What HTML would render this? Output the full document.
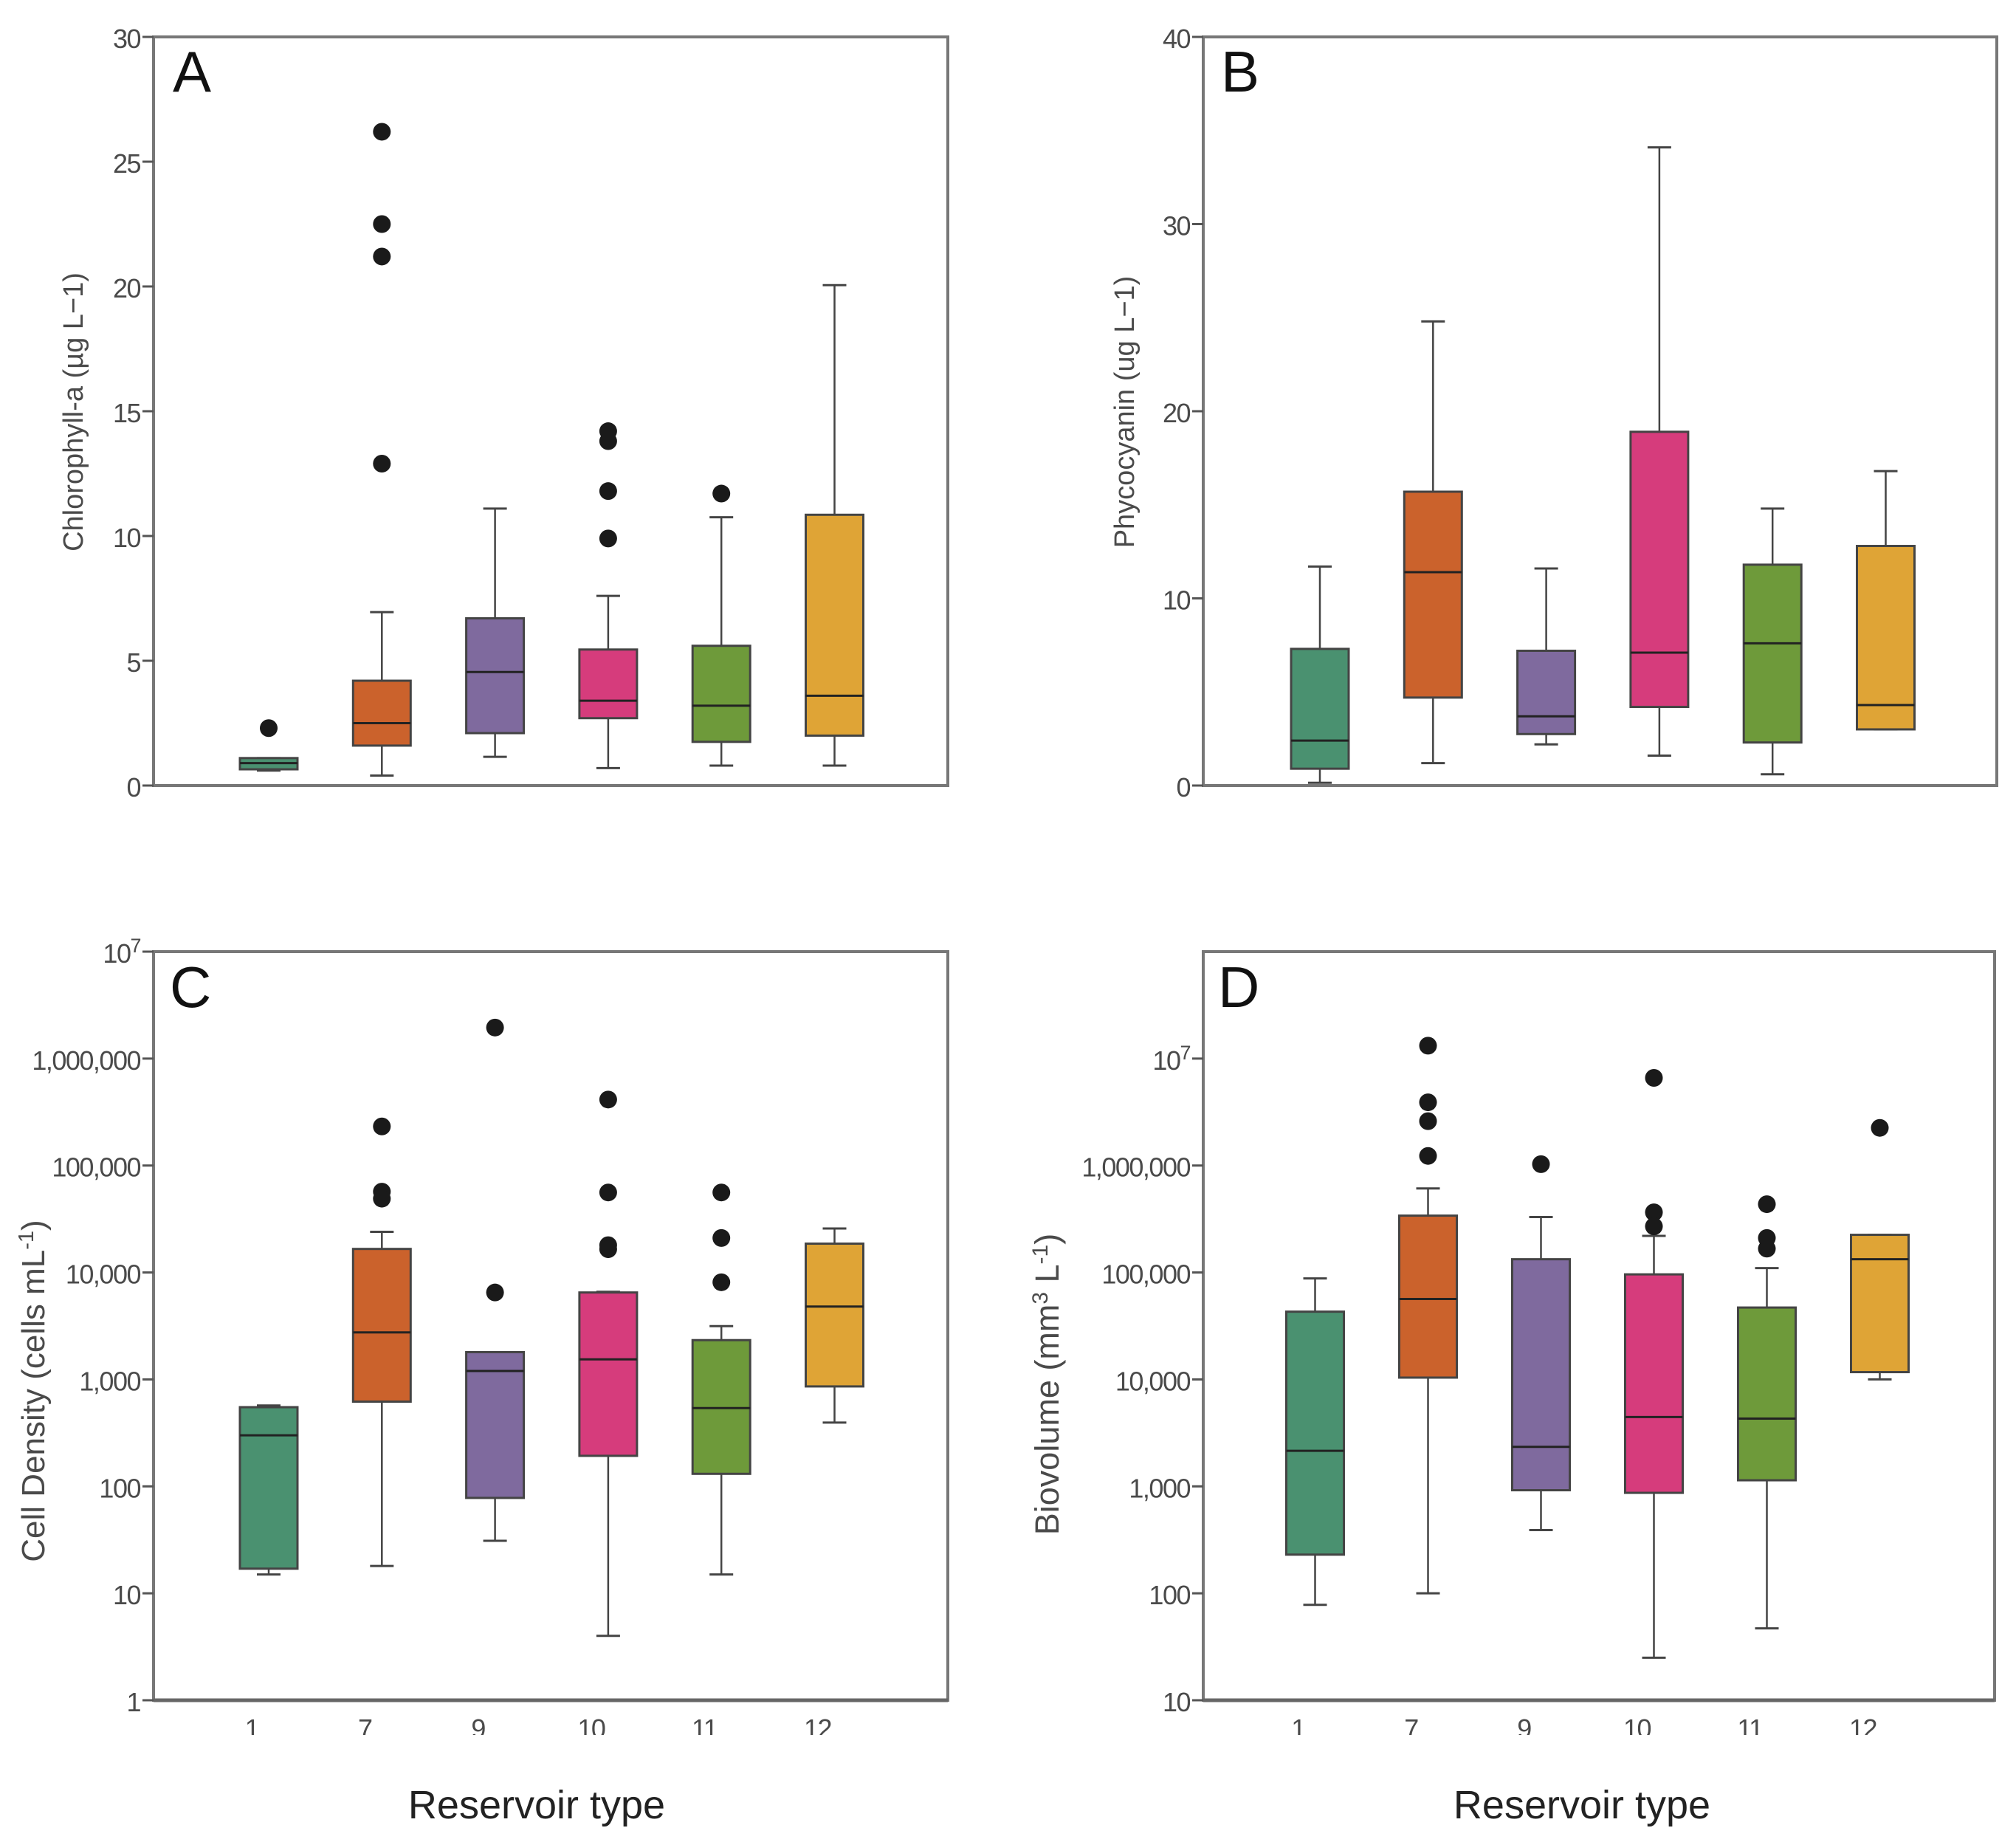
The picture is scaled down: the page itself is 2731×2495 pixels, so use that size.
<!DOCTYPE html>
<html lang="en">
<head>
<meta charset="utf-8">
<title>Reservoir type box plots</title>
<style>
html,body{margin:0;padding:0;background:#fff;}
svg{display:block;}
text{font-family:"Liberation Sans","DejaVu Sans",sans-serif;}
.tick{font-size:36px;fill:#4a4a4a;letter-spacing:-1.5px;}
.ytitle{fill:#4a4a4a;}
.letter{font-size:78px;fill:#111;}
.xtitle{font-size:54px;fill:#222;}
</style>
</head>
<body>
<svg id="chart" xmlns="http://www.w3.org/2000/svg" width="2731" height="2495" viewBox="0 0 2731 2495">
  <rect x="0" y="0" width="2731" height="2495" fill="#fff"/>
  <g id="marks"></g>
  <rect x="0" y="2350" width="2731" height="60" fill="#fff"/>
  <text class="letter" x="234" y="124">A</text>
  <text class="letter" x="1654" y="124">B</text>
  <text class="letter" x="230" y="1364">C</text>
  <text class="letter" x="1650" y="1364">D</text>
  <text class="ytitle" font-size="38" text-anchor="middle" transform="translate(112,558) rotate(-90)">Chlorophyll-a (µg L−1)</text>
  <text class="ytitle" font-size="38" text-anchor="middle" transform="translate(1536,558) rotate(-90)">Phycocyanin (ug L−1)</text>
  <text class="ytitle" font-size="44" text-anchor="middle" transform="translate(60,1884) rotate(-90)">Cell Density (cells mL<tspan font-size="29" dy="-15">-1</tspan><tspan dy="15">)</tspan></text>
  <text class="ytitle" font-size="45" text-anchor="middle" transform="translate(1434,1875) rotate(-90)">Biovolume (mm<tspan font-size="30" dy="-15">3</tspan><tspan dy="15"> L</tspan><tspan font-size="30" dy="-15">-1</tspan><tspan dy="15">)</tspan></text>
  <text class="xtitle" text-anchor="middle" x="727" y="2463">Reservoir type</text>
  <text class="xtitle" text-anchor="middle" x="2143" y="2463">Reservoir type</text>
</svg>
<script>
const categories = ["1", "7", "9", "10", "11", "12"];
const boxColors = ["#4a9170", "#cb622c", "#7f6a9e", "#d63c7c", "#6e9a3a", "#dfa436"];

const aLow = [0.6, 0.4, 1.15, 0.7, 0.8, 0.8];
const aQ1 = [0.65, 1.6, 2.1, 2.7, 1.75, 2.0];
const aMedian = [0.9, 2.5, 4.55, 3.4, 3.2, 3.6];
const aQ3 = [1.1, 4.2, 6.7, 5.45, 5.6, 10.85];
const aHigh = [1.1, 6.95, 11.1, 7.6, 10.75, 20.05];
const aOutliers = [[2.3], [12.9, 21.2, 22.5, 26.2], [], [9.9, 11.8, 13.8, 14.2], [11.7], []];
const aTickValues = [0, 5, 10, 15, 20, 25, 30];
const aTickLabels = ["0", "5", "10", "15", "20", "25", "30"];

const bLow = [0.15, 1.2, 2.2, 1.6, 0.6, 3.0];
const bQ1 = [0.9, 4.7, 2.75, 4.2, 2.3, 3.0];
const bMedian = [2.4, 11.4, 3.7, 7.1, 7.6, 4.3];
const bQ3 = [7.3, 15.7, 7.2, 18.9, 11.8, 12.8];
const bHigh = [11.7, 24.8, 11.6, 34.1, 14.8, 16.8];
const bOutliers = [[], [], [], [], [], []];
const bTickValues = [0, 10, 20, 30, 40];
const bTickLabels = ["0", "10", "20", "30", "40"];

const cLow = [15, 18, 31, 4, 15, 395];
const cQ1 = [17, 620, 78, 193, 131, 860];
const cMedian = [300, 2750, 1200, 1540, 540, 4800];
const cQ3 = [550, 16600, 1800, 6500, 2330, 18600];
const cHigh = [570, 24000, 1800, 6600, 3150, 25800];
const cOutliers = [[], [232000, 57000, 49000], [6500, 1950000], [414000, 56000, 18000, 16500], [56000, 21000, 8100], []];
const cTickValues = [1, 10, 100, 1000, 10000, 100000, 1000000, 10000000];
const cTickLabels = ["1", "10", "100", "1,000", "10,000", "100,000", "1,000,000", "10^7"];

const dLow = [78, 100, 390, 25, 47, 10000];
const dQ1 = [230, 10400, 920, 870, 1140, 11700];
const dMedian = [2150, 56500, 2340, 4450, 4300, 133000];
const dQ3 = [43000, 340000, 133000, 96000, 47000, 225000];
const dHigh = [88000, 610000, 330000, 220000, 110000, 225000];
const dOutliers = [[], [13200000, 3900000, 2600000, 1230000], [1030000], [6600000, 365000, 270000], [435000, 210000, 167000], [2250000]];
const dTickValues = [10, 100, 1000, 10000, 100000, 1000000, 10000000];
const dTickLabels = ["10", "100", "1,000", "10,000", "100,000", "1,000,000", "10^7"];

const NS = "http://www.w3.org/2000/svg";
const marks = document.getElementById("marks");

function make(tag, attrs, parent) {
  const el = document.createElementNS(NS, tag);
  for (const k in attrs) el.setAttribute(k, attrs[k]);
  parent.appendChild(el);
  return el;
}

function drawPanel(p) {
  const group = make("g", {}, marks);
  
  

  const yScale = p.log
    ? v => p.bottom - (Math.log10(v) - Math.log10(p.yMin)) / (Math.log10(p.yMax) - Math.log10(p.yMin)) * (p.bottom - p.top)
    : v => p.bottom - (v - p.yMin) / (p.yMax - p.yMin) * (p.bottom - p.top);
  const xScale = i => p.left + p.firstOffset + i * p.step;

  const frame = make("rect", { x: p.left, y: p.top, width: p.right - p.left, height: p.bottom - p.top, fill: "none", stroke: "#777", "stroke-width": 4 }, group);
  
  

  if (p.showX) {
    const base = make("line", { x1: p.left, x2: p.right, y1: p.bottom, y2: p.bottom, stroke: "#666", "stroke-width": 5 }, group);
    
    
  }

  p.tickValues.forEach((v, i) => {
    const y = yScale(v);
    const tick = make("line", { x1: p.left - 15, x2: p.left, y1: y, y2: y, stroke: "#555", "stroke-width": 3 }, group);
    
    
    const label = make("text", { x: p.left - 18, y: y + 15, "text-anchor": "end", class: "tick" }, group);
    
    
    const parts = p.tickLabels[i].split("^");
    label.appendChild(document.createTextNode(parts[0]));
    if (parts[1]) {
      const sup = make("tspan", { dy: -14, "font-size": 27 }, label);
      sup.textContent = parts[1];
    }
  });

  categories.forEach((cat, i) => {
    const x = xScale(i);
    const box = make("g", {}, group);
    
    

    const yLow = yScale(p.low[i]), yHigh = yScale(p.high[i]);
    const yQ1 = yScale(p.q1[i]), yQ3 = yScale(p.q3[i]), yMed = yScale(p.median[i]);

    const whisker = make("line", { x1: x, x2: x, y1: yLow, y2: yHigh, stroke: "#444", "stroke-width": 2.5 }, box);
    
    

    [yLow, yHigh].forEach(yc => {
      const cap = make("line", { x1: x - 16, x2: x + 16, y1: yc, y2: yc, stroke: "#444", "stroke-width": 3 }, box);
      
      
    });

    const rect = make("rect", { x: x - p.boxHalf, y: yQ3, width: p.boxHalf * 2, height: yQ1 - yQ3, fill: boxColors[i], stroke: "#444", "stroke-width": 3 }, box);
    
    

    const med = make("line", { x1: x - p.boxHalf, x2: x + p.boxHalf, y1: yMed, y2: yMed, stroke: "#222", "stroke-width": 3 }, box);
    
    

    p.outliers[i].forEach(v => {
      const dot = make("circle", { cx: x, cy: yScale(v), r: 12, fill: "#1a1a1a" }, box);
      
      
    });

    if (p.showX) {
      const xl = make("text", { x: x - 23, y: 2354, "text-anchor": "middle", class: "tick" }, group);
      
      
      xl.textContent = cat;
    }
  });
}

drawPanel({ id: "a", log: false, yMin: 0, yMax: 30, left: 208, right: 1284, top: 50, bottom: 1064, firstOffset: 156, step: 153.3, boxHalf: 39, showX: false,
  low: aLow, q1: aQ1, median: aMedian, q3: aQ3, high: aHigh, outliers: aOutliers, tickValues: aTickValues, tickLabels: aTickLabels });
drawPanel({ id: "b", log: false, yMin: 0, yMax: 40, left: 1630, right: 2705, top: 50, bottom: 1064, firstOffset: 158, step: 153.3, boxHalf: 39, showX: false,
  low: bLow, q1: bQ1, median: bMedian, q3: bQ3, high: bHigh, outliers: bOutliers, tickValues: bTickValues, tickLabels: bTickLabels });
drawPanel({ id: "c", log: true, yMin: 1, yMax: 10000000, left: 208, right: 1284, top: 1289, bottom: 2303, firstOffset: 156, step: 153.3, boxHalf: 39, showX: true,
  low: cLow, q1: cQ1, median: cMedian, q3: cQ3, high: cHigh, outliers: cOutliers, tickValues: cTickValues, tickLabels: cTickLabels });
drawPanel({ id: "d", log: true, yMin: 10, yMax: 100000000, left: 1630, right: 2702, top: 1289, bottom: 2303, firstOffset: 151.5, step: 153, boxHalf: 39, showX: true,
  low: dLow, q1: dQ1, median: dMedian, q3: dQ3, high: dHigh, outliers: dOutliers, tickValues: dTickValues, tickLabels: dTickLabels });
</script>
</body>
</html>
